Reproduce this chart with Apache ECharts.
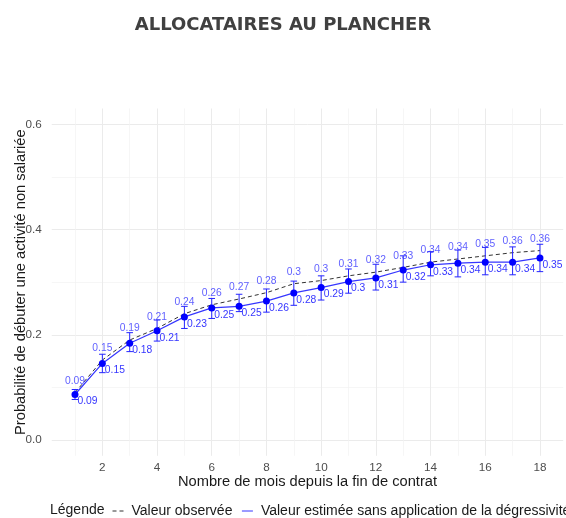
<!DOCTYPE html>
<html><head><meta charset="utf-8">
<script src="https://cdn.jsdelivr.net/npm/echarts@6/dist/echarts.min.js"></script>
<style>html,body{margin:0;padding:0;background:#fff}#c{width:566px;height:518px}</style>
</head><body><div id="c"></div>
<script>
const months    = [1,2,3,4,5,6,7,8,9,10,11,12,13,14,15,16,17,18];
const observed  = [0.090,0.152,0.190,0.212,0.240,0.257,0.268,0.280,0.297,0.303,0.312,0.319,0.328,0.338,0.344,0.350,0.356,0.360];
const estimated = [0.0865,0.1455,0.184,0.2077,0.234,0.251,0.254,0.264,0.2795,0.2897,0.301,0.308,0.323,0.333,0.336,0.338,0.338,0.346];
const ciLow     = [0.077,0.128,0.168,0.188,0.212,0.231,0.244,0.243,0.256,0.266,0.279,0.285,0.300,0.312,0.310,0.314,0.314,0.320];
const ciHigh    = [0.096,0.163,0.204,0.228,0.254,0.269,0.277,0.287,0.302,0.312,0.325,0.334,0.350,0.358,0.361,0.366,0.367,0.372];

const fmt = v => String(Math.round(v * 100) / 100);
const BLUE = '#0000ff';
const LBLUE = '#3636ff';

const chart = echarts.init(document.getElementById('c'), null, {renderer: 'canvas'});
chart.setOption({
  animation: false,
  backgroundColor: '#fff',
  title: {
    text: 'ALLOCATAIRES AU PLANCHER',
    left: 'center', top: 11,
    textStyle: {fontFamily: 'DejaVu Sans', fontWeight: 'bold', fontSize: 18, color: '#404040'}
  },
  graphic: [{
    type: 'text', left: 50, top: 503,
    style: {text: 'Légende', fontFamily: 'Liberation Sans', fontSize: 14, fill: '#1a1a1a'}
  }],
  legend: {
    left: 107, top: 499, width: 620,
    itemWidth: 11, itemHeight: 10, itemGap: 9,
    itemStyle: {opacity: 0},
    lineStyle: {width: 1},
    textStyle: {fontFamily: 'Liberation Sans', fontSize: 14, color: '#1a1a1a', padding: [0, 0, 0, 3]},
    data: ['Valeur observée', 'Valeur estimée sans application de la dégressivité']
  },
  grid: {left: 51.75, right: 2.8, top: 108.5, bottom: 62.2, containLabel: false},
  xAxis: {
    type: 'value', min: 0.15, max: 18.85, splitNumber: 9,
    name: 'Nombre de mois depuis la fin de contrat',
    nameLocation: 'middle', nameGap: 19, nameMoveOverlap: false,
    nameTextStyle: {fontFamily: 'Liberation Sans', fontSize: 14.67, color: '#1a1a1a'},
    axisLine: {show: false}, axisTick: {show: false},
    axisLabel: {show: true, margin: 6, showMinLabel: false, showMaxLabel: false,
      fontFamily: 'Liberation Sans', fontSize: 11.7, color: '#4d4d4d', formatter: v => String(v)},
    splitLine: {show: true, showMinLine: false, showMaxLine: false, lineStyle: {color: '#ebebeb', width: 1}},
    minorTick: {show: false, splitNumber: 2},
    minorSplitLine: {show: true, lineStyle: {color: '#f2f2f2', width: 0.7}}
  },
  yAxis: {
    type: 'value', min: -0.03, max: 0.63, splitNumber: 3,
    name: 'Probabilité de débuter une activité non salariée',
    nameLocation: 'middle', nameGap: 23, nameMoveOverlap: false,
    nameTextStyle: {fontFamily: 'Liberation Sans', fontSize: 14.67, color: '#1a1a1a'},
    axisLine: {show: false}, axisTick: {show: false},
    axisLabel: {show: true, margin: 10, showMinLabel: false, showMaxLabel: false,
      fontFamily: 'Liberation Sans', fontSize: 11.7, color: '#4d4d4d', formatter: v => v.toFixed(1)},
    splitLine: {show: true, showMinLine: false, showMaxLine: false, lineStyle: {color: '#ebebeb', width: 1}},
    minorTick: {show: false, splitNumber: 2},
    minorSplitLine: {show: true, lineStyle: {color: '#f2f2f2', width: 0.7}}
  },
  series: [
    {
      name: 'Valeur observée', type: 'line', z: 3,
      data: months.map((m, i) => [m, observed[i]]),
      symbol: 'none', showSymbol: false,
      lineStyle: {color: '#333', width: 1, type: [4, 3]},
      itemStyle: {color: '#333'}
    },
    {
      name: 'obsLabels', type: 'scatter', z: 7,
      data: months.map((m, i) => [m, observed[i]]),
      symbolSize: 1,
      itemStyle: {color: 'rgba(0,0,0,0)'},
      label: {show: true, position: 'top', distance: 6, formatter: p => fmt(p.value[1]),
        fontFamily: 'Liberation Sans', fontSize: 10.3, color: LBLUE},
      labelLayout: {hideOverlap: false}
    },
    {
      name: 'errorbars', type: 'custom', z: 4,
      data: months.map((m, i) => [m, ciLow[i], ciHigh[i]]),
      encode: {x: 0, y: [1, 2]},
      renderItem: (params, api) => {
        const x = api.value(0), lo = api.value(1), hi = api.value(2);
        const pLo = api.coord([x, lo]), pHi = api.coord([x, hi]);
        const cL = api.coord([x - 0.12, hi])[0], cR = api.coord([x + 0.12, hi])[0];
        const st = {stroke: '#2424ff', lineWidth: 1};
        return {type: 'group', children: [
          {type: 'line', shape: {x1: pLo[0], y1: pLo[1], x2: pHi[0], y2: pHi[1]}, style: st},
          {type: 'line', shape: {x1: cL, y1: pHi[1], x2: cR, y2: pHi[1]}, style: st},
          {type: 'line', shape: {x1: cL, y1: pLo[1], x2: cR, y2: pLo[1]}, style: st}
        ]};
      }
    },
    {
      name: 'Valeur estimée sans application de la dégressivité', type: 'line', z: 5,
      data: months.map((m, i) => [m, estimated[i]]),
      symbol: 'none', showSymbol: false,
      lineStyle: {color: LBLUE, width: 1.2},
      itemStyle: {color: LBLUE}
    },
    {
      name: 'points', type: 'scatter', z: 6,
      data: months.map((m, i) => [m, estimated[i]]),
      symbolSize: 7,
      itemStyle: {color: BLUE, opacity: 1},
      label: {show: true, position: 'right', distance: -1, offset: [0, 7], formatter: p => fmt(p.value[1]),
        fontFamily: 'Liberation Sans', fontSize: 10.3, color: LBLUE}
    }
  ]
});
</script>
</body></html>
